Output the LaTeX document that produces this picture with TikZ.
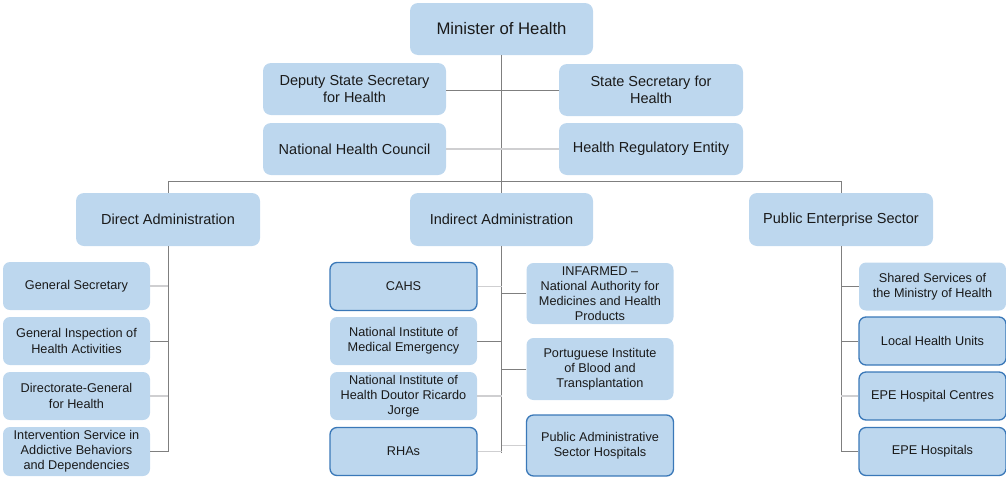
\documentclass[tikz,border=0pt]{standalone}
\usepackage{fontspec}
\setmainfont{Liberation Sans}
\definecolor{boxfill}{HTML}{BDD7EE}
\definecolor{boxline}{HTML}{3A78B8}
\definecolor{linedark}{HTML}{7F7F7F}
\definecolor{linelight}{HTML}{CFCFD1}
\definecolor{txt}{HTML}{1A1A1A}
\tikzset{
  box/.style={fill=boxfill, draw=none, rounded corners=8pt, align=center,
    inner sep=0pt, text=txt},
  topbox/.style={box, minimum width=183pt, minimum height=52pt,
    font=\fontsize{16.7}{20}\selectfont},
  midbox/.style={box, minimum width=183pt, minimum height=52pt,
    font=\fontsize{14.5}{17.4}\selectfont},
  unitbox/.style={box, rounded corners=7pt, minimum width=147pt, minimum height=48pt,
    font=\fontsize{12.7}{15.2}\selectfont},
  tallbox/.style={unitbox, minimum height=61pt},
  framed/.style={draw=boxline, line width=1.3pt},
  trunk/.style={draw=linedark, line width=1pt},
  branch/.style={draw=linedark, line width=1pt},
  faint/.style={draw=linelight, line width=1.3pt},
}
\begin{document}
\begin{tikzpicture}[x=1pt,y=-1pt]
\useasboundingbox (0,0) rectangle (1006,477);

% ministry head and advisory bodies
\node[topbox] (min) at (501.5,29) {Minister of Health};
\node[midbox] (dep) at (354.5,89) {Deputy State Secretary\\for Health};
\node[midbox, minimum width=184pt] (sss) at (651,90) {State Secretary for\\Health};
\node[midbox] (nhc) at (354.5,149) {National Health Council};
\node[midbox, minimum width=184pt] (hre) at (651,149) {Health Regulatory Entity};

% administration branches
\node[midbox, minimum width=184pt, minimum height=53pt] (da) at (168,219.5) {Direct Administration};
\node[midbox, minimum height=53pt] (ia) at (501.5,219.5) {Indirect Administration};
\node[midbox, minimum width=184pt, minimum height=53pt] (pes) at (841,219.5) {Public Enterprise Sector};

% direct administration units
\node[unitbox] (gs) at (76.5,286) {General Secretary};
\node[unitbox] (gi) at (76.5,341) {General Inspection of\\Health Activities};
\node[unitbox] (dg) at (76.5,396) {Directorate-General\\for Health};
\node[unitbox, minimum height=49pt] (isa) at (76.5,451.5) {Intervention Service in\\Addictive Behaviors\\and Dependencies};

% indirect administration units
\node[unitbox, framed] (cahs) at (403.5,286.5) {CAHS};
\node[unitbox] (nime) at (403.5,341) {National Institute of\\Medical Emergency};
\node[unitbox] (nih) at (403.5,396) {National Institute of\\Health Doutor Ricardo\\Jorge};
\node[unitbox, framed] (rha) at (403.5,451.5) {RHAs};
\node[tallbox, minimum height=61pt] (inf) at (600,293.5) {INFARMED --\\National Authority for\\Medicines and Health\\Products};
\node[tallbox, minimum height=62pt] (pib) at (600,369) {Portuguese Institute\\of Blood and\\Transplantation};
\node[tallbox, framed, minimum height=61pt] (pash) at (600,445.5) {Public Administrative\\Sector Hospitals};

% public enterprise sector units
\node[unitbox] (ssm) at (932.5,286.5) {Shared Services of\\the Ministry of Health};
\node[unitbox, framed] (lhu) at (932.5,341) {Local Health Units};
\node[unitbox, framed] (ehc) at (932.5,396) {EPE Hospital Centres};
\node[unitbox, framed] (eph) at (932.5,451.5) {EPE Hospitals};

% connectors at the top
\coordinate (bus) at (501.5,181);
\draw[trunk] (min.south) -- (ia.north);
\draw[branch] (dep.east |- sss.west) -- (sss.west);
\draw[faint] (nhc.east) -- (hre.west);
\draw[trunk] (da.north) -- (da.north |- bus) -- (pes.north |- bus) -- (pes.north);

% direct administration tree
\draw[trunk] (da.south) -- (da.south |- isa.east);
\draw[faint] (gs.east) -- (gs.east -| da.south);
\draw[branch] (gi.east) -- (gi.east -| da.south);
\draw[faint] (dg.east) -- (dg.east -| da.south);
\draw[branch] (isa.east) -- (isa.east -| da.south);

% indirect administration tree
\coordinate (iaend) at (501.5,453);
\draw[trunk] (ia.south) -- (iaend);
\draw[faint] (cahs.east) -- (cahs.east -| ia.south);
\draw[branch] (nime.east) -- (nime.east -| ia.south);
\draw[faint] (nih.east) -- (nih.east -| ia.south);
\draw[faint] (rha.east) -- (rha.east -| ia.south);
\draw[branch] (inf.west) -- (inf.west -| ia.south);
\draw[branch] (pib.west) -- (pib.west -| ia.south);
\draw[faint] (pash.west) -- (pash.west -| ia.south);

% public enterprise sector tree
\draw[trunk] (pes.south) -- (pes.south |- eph.west);
\draw[branch] (ssm.west) -- (ssm.west -| pes.south);
\draw[branch] (lhu.west) -- (lhu.west -| pes.south);
\draw[faint] (ehc.west) -- (ehc.west -| pes.south);
\draw[branch] (eph.west) -- (eph.west -| pes.south);
\end{tikzpicture}
\end{document}
